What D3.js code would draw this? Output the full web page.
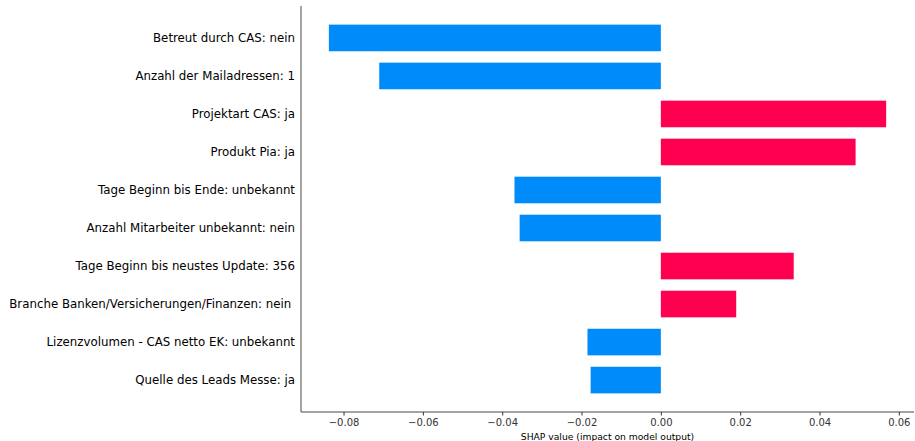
<!DOCTYPE html>
<html><head><meta charset="utf-8">
<script src="https://cdn.jsdelivr.net/npm/d3@7"></script>
<style>body{margin:0;background:#fff}svg{display:block}text{font-family:"DejaVu Sans",sans-serif}</style>
</head><body>
<svg id="c" width="915" height="441"></svg>
<script>
const features = [
  "Betreut durch CAS: nein",
  "Anzahl der Mailadressen: 1",
  "Projektart CAS: ja",
  "Produkt Pia: ja",
  "Tage Beginn bis Ende: unbekannt",
  "Anzahl Mitarbeiter unbekannt: nein",
  "Tage Beginn bis neustes Update: 356",
  "Branche Banken/Versicherungen/Finanzen: nein ",
  "Lizenzvolumen - CAS netto EK: unbekannt",
  "Quelle des Leads Messe: ja"
];
const shapValues = [-0.0837, -0.0710, 0.0568, 0.0491, -0.0369, -0.0356, 0.0335, 0.0190, -0.0185, -0.0177];
const xTicks = [-0.08, -0.06, -0.04, -0.02, 0.00, 0.02, 0.04, 0.06];
const xLabel = "SHAP value (impact on model output)";

const svg = d3.select("#c");
const mLeft = 301, mRight = 914, mTop = 6, mBottom = 412;
const mn = d3.min(shapValues), mx = d3.max(shapValues), pad = (mx - mn) * 0.05;
const x = d3.scaleLinear().domain([Math.min(0, mn) - pad, Math.max(0, mx) + pad]).range([mLeft, mRight]);
const y = d3.scaleLinear().domain([-0.84, features.length - 1 + 0.84]).range([mTop, mBottom]);
const bh = (y(1) - y(0)) * 0.7;

svg.append("g").selectAll("rect").data(shapValues).join("rect")
  .attr("x", d => Math.min(x(0), x(d)))
  .attr("width", d => Math.abs(x(d) - x(0)))
  .attr("y", (d, i) => y(i) - bh / 2)
  .attr("height", bh)
  .attr("fill", d => d < 0 ? "#008bfb" : "#ff0051");

svg.append("g").selectAll("text").data(features).join("text")
  .attr("x", mLeft - 6)
  .attr("y", (d, i) => y(i))
  .attr("dy", "0.35em")
  .attr("text-anchor", "end")
  .attr("font-size", 11.8)
  .attr("fill", "#000")
  .style("white-space", "pre")
  .text(d => d);

const xAxis = d3.axisBottom(x).tickValues(xTicks).tickFormat(d3.format(".2f")).tickSize(3.5).tickPadding(3);
const gx = svg.append("g").attr("transform", `translate(0,${mBottom})`).call(xAxis);
gx.select(".domain").remove();
gx.selectAll(".tick line").attr("stroke", "#333");
gx.selectAll(".tick text").attr("fill", "#333").attr("font-size", 10).style("font-family", "DejaVu Sans");
svg.append("line").attr("x1", mLeft).attr("x2", mRight).attr("y1", mBottom).attr("y2", mBottom).attr("stroke", "#333").attr("stroke-width", 0.9);
svg.append("line").attr("x1", mLeft).attr("x2", mLeft).attr("y1", mTop).attr("y2", mBottom).attr("stroke", "#333").attr("stroke-width", 0.9);

svg.append("text").attr("x", (mLeft + mRight) / 2).attr("y", 436.5).attr("dy", "0.35em")
  .attr("text-anchor", "middle").attr("font-size", 9.2).attr("fill", "#000").text(xLabel);
</script>
</body></html>
